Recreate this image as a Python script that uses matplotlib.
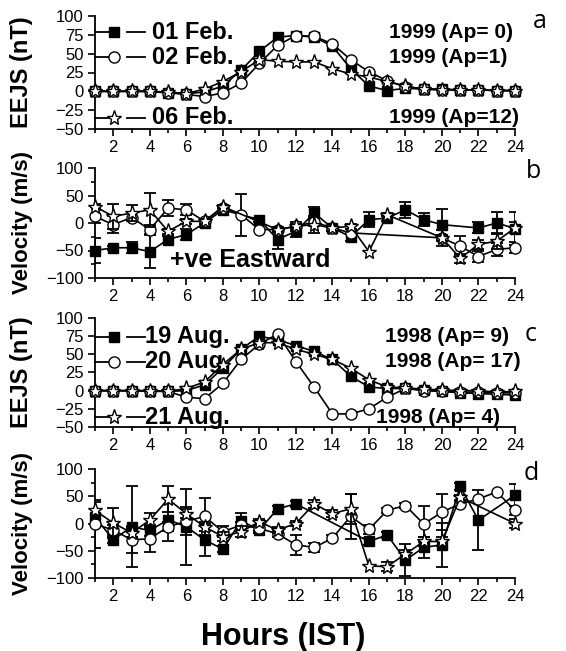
import numpy as np
import matplotlib
matplotlib.use('Agg')
import matplotlib.pyplot as plt
from matplotlib.ticker import MultipleLocator

plt.rcParams['font.family'] = ['Liberation Sans', 'DejaVu Sans']

nan = np.nan
hours = np.arange(1, 25)

# (a) EEJS, Feb 1999
feb01_ejs = [0, 0, 0, 0, -2, -3, -1, 7, 28, 53, 72, 74, 72, 60, 30, 7, 1, 4, 3, 3, 2, 2, 1, 1]
feb02_ejs = [0, 0, 0, 0, -2, -4, -7, -2, 11, 37, 61, 74, 73, 63, 42, 26, 14, 6, 3, 2, 2, 2, 1, 1]
feb06_ejs = [0, 0, 0, 0, -1, -3, 3, 13, 26, 42, 40, 39, 39, 30, 23, 19, 13, 7, 3, 2, 2, 2, 1, 1]

# (b) drift velocity, Feb 1999 (+ error bars)
feb01_vel = [-50, -45, -45, -52, -30, -21, 0, 24, nan, 6, -30, -15, 18, -9, -25, 6, 9, 24, 6, -3, nan, -9, 0, -10]
feb02_vel = [12, -3, 10, -12, 27, 24, 3, 28, 15, -12, -12, -6, 2, -9, -18, nan, nan, nan, nan, -27, -42, -61, -48, -45]
feb06_vel = [30, 12, 18, 24, -15, 3, 3, 30, nan, nan, -12, -6, -3, -9, -6, -52, 15, nan, nan, -27, -64, -39, -33, -9]
feb01_err = [22, 4, 10, 30, 6, 10, 8, nan, nan, 4, 18, 10, 12, 6, 8, 14, 5, 14, 12, 28, nan, 10, 20, 30]
feb02_err = [12, 15, nan, 8, 15, 10, nan, nan, 38, nan, nan, 8, 8, 5, nan, nan, nan, nan, nan, 15, 18, 10, 12, 10]
feb06_err = [5, 22, 14, 31, 5, 5, 5, 3, nan, nan, 5, 5, 15, 5, 5, nan, 3, nan, nan, 5, 8, 8, 15, 10]

# (c) EEJS, Aug 1998
aug19_ejs = [0, 0, 0, -1, -1, 0, 8, 31, 57, 75, 70, 62, 54, 43, 20, 5, 3, 3, 1, -1, -3, -4, -5, -6]
aug20_ejs = [0, 0, 0, 0, -1, -9, -11, 10, 43, 64, 78, 40, 5, -32, -32, -25, -9, 3, 0, -1, -2, -2, -3, -3]
aug21_ejs = [0, 0, 0, 0, -1, 3, 12, 36, 57, 66, 66, 57, 50, 43, 31, 15, 5, 4, 2, 1, 0, 0, -2, -1]

# (d) drift velocity, Aug 1998 (+ error bars)
aug19_vel = [12, -30, -6, -13, 7, -6, -30, -47, 5, -12, 27, 36, nan, nan, nan, -33, -21, -67, -44, -39, 68, 6, nan, 52]
aug20_vel = [-1, -12, -30, -28, -6, 4, 13, -15, -3, -9, -19, -39, -44, -27, 13, -11, 24, 33, -1, 21, 36, 45, 58, 24]
aug21_vel = [24, 1, -17, 6, 45, 18, -6, -24, -15, 3, -12, 0, 36, 18, 27, -78, -79, -56, -33, -33, 48, nan, nan, 0]
aug19_err = [nan, 6, 74, 10, 40, 70, 30, 5, 15, 5, 5, 5, nan, nan, nan, 6, 6, 30, 20, 40, 6, 55, nan, 20]
aug20_err = [44, 10, 25, 24, 8, 26, 34, 10, 5, 5, 5, 18, 8, 6, 42, 8, 5, 5, 33, 33, 5, nan, nan, 8]
aug21_err = [15, 27, 8, 14, 24, 8, 8, 8, 10, 5, 5, 5, 8, 6, 27, nan, 8, 8, 8, 8, 5, nan, nan, 8]

W, H = 566, 651
fig = plt.figure(figsize=(W / 100, H / 100), dpi=100)


def make_axes(top, bottom):
    ax = fig.add_axes([95 / W, 1 - bottom / H, 420 / W, (bottom - top) / H])
    ax.spines['top'].set_visible(False)
    ax.spines['right'].set_visible(False)
    for s in ('left', 'bottom'):
        ax.spines[s].set_linewidth(1.3)
    ax.set_xlim(1, 24)
    ax.xaxis.set_major_locator(MultipleLocator(2))
    ax.xaxis.set_minor_locator(MultipleLocator(1))
    ax.tick_params(which='both', direction='out', width=1.2, labelsize=12, pad=3)
    ax.tick_params(which='major', length=5)
    ax.tick_params(which='minor', length=3)
    return ax


def draw(ax, y, marker, face, ms, z, err=None):
    y = np.array(y, float)
    m = ~np.isnan(y)
    if err is not None:
        e = np.array(err, float)
        k = m & ~np.isnan(e)
        ax.errorbar(hours[k], y[k], yerr=e[k], fmt='none', ecolor='k',
                    elinewidth=1.3, capsize=4, capthick=1.3, zorder=z)
    ax.plot(hours[m], y[m], '-', color='k', lw=1.2, marker=marker, mfc=face,
            mec='k', ms=ms, mew=1, zorder=z + 1, clip_on=False)


def legend_entry(ax, yfrac, marker, face, ms, label, tx):
    # short line up to the marker, then a separate dash before the text
    ax.plot([0, 0.045], [yfrac, yfrac], color='k', lw=1.3,
            transform=ax.transAxes, clip_on=False, zorder=5)
    ax.plot([0.075, 0.12], [yfrac, yfrac], color='k', lw=1.3,
            transform=ax.transAxes, clip_on=False, zorder=5)
    ax.plot([0.045], [yfrac], marker=marker, mfc=face, mec='k', ms=ms, mew=1,
            transform=ax.transAxes, clip_on=False, zorder=6)
    ax.text(tx, yfrac, label, transform=ax.transAxes, fontsize=17,
            fontweight='bold', va='center', ha='left')


sq = ('s', 'k', 6.5)
ci = ('o', 'white', 8)
st = ('*', 'white', 11)

# ---- panel a
ax_a = make_axes(16, 129)
ax_a.set_ylim(-50, 100)
ax_a.yaxis.set_major_locator(MultipleLocator(25))
draw(ax_a, feb01_ejs, *sq, 3)
draw(ax_a, feb02_ejs, *ci, 5)
draw(ax_a, feb06_ejs, *st, 7)
legend_entry(ax_a, 0.855, *sq, '01 Feb.', 0.135)
legend_entry(ax_a, 0.635, *ci, '02 Feb.', 0.135)
legend_entry(ax_a, 0.10, *st, '06 Feb.', 0.135)
for yf, t in [(0.855, '1999 (Ap= 0)'), (0.635, '1999 (Ap=1)'), (0.10, '1999 (Ap=12)')]:
    ax_a.text(0.70, yf, t, transform=ax_a.transAxes, fontsize=15,
              fontweight='bold', va='center', ha='left')
ax_a.set_ylabel('EEJS (nT)', fontsize=17, fontweight='bold')

# ---- panel b
ax_b = make_axes(168, 278)
ax_b.set_ylim(-100, 100)
ax_b.yaxis.set_major_locator(MultipleLocator(50))
ax_b.yaxis.set_minor_locator(MultipleLocator(25))
draw(ax_b, feb01_vel, *sq, 3, feb01_err)
draw(ax_b, feb02_vel, *ci, 5, feb02_err)
draw(ax_b, feb06_vel, *st, 7, feb06_err)
ax_b.text(9.5, -68, '+ve Eastward', fontsize=18, fontweight='bold',
          ha='center', va='center', zorder=10)
ax_b.set_ylabel('Velocity (m/s)', fontsize=16, fontweight='bold')

# ---- panel c
ax_c = make_axes(318, 427)
ax_c.set_ylim(-50, 100)
ax_c.yaxis.set_major_locator(MultipleLocator(25))
draw(ax_c, aug19_ejs, *sq, 3)
draw(ax_c, aug20_ejs, *ci, 5)
draw(ax_c, aug21_ejs, *st, 7)
legend_entry(ax_c, 0.83, *sq, '19 Aug.', 0.12)
legend_entry(ax_c, 0.60, *ci, '20 Aug.', 0.12)
legend_entry(ax_c, 0.09, *st, '21 Aug.', 0.12)
for xf, yf, t in [(0.69, 0.83, '1998 (Ap= 9)'), (0.69, 0.60, '1998 (Ap= 17)'),
                  (0.67, 0.09, '1998 (Ap= 4)')]:
    ax_c.text(xf, yf, t, transform=ax_c.transAxes, fontsize=15,
              fontweight='bold', va='center', ha='left')
ax_c.set_ylabel('EEJS (nT)', fontsize=17, fontweight='bold')

# ---- panel d
ax_d = make_axes(469, 578)
ax_d.set_ylim(-100, 100)
ax_d.yaxis.set_major_locator(MultipleLocator(50))
ax_d.yaxis.set_minor_locator(MultipleLocator(25))
draw(ax_d, aug19_vel, *sq, 3, aug19_err)
draw(ax_d, aug20_vel, *ci, 5, aug20_err)
draw(ax_d, aug21_vel, *st, 7, aug21_err)
ax_d.set_ylabel('Velocity (m/s)', fontsize=16, fontweight='bold')

for ax in (ax_a, ax_b, ax_c, ax_d):
    ax.yaxis.set_label_coords(-62 / 420, 0.5)

for ax, letter, (px, py) in zip((ax_a, ax_b, ax_c, ax_d), 'abcd',
                                [(540, 22), (534, 172), (531, 335), (531, 474)]):
    fig.text(px / W, 1 - py / H, letter, fontsize=18, family='Open Sans',
             ha='center', va='center')

fig.text(283 / W, 1 - 637 / H, 'Hours (IST)', fontsize=22, fontweight='bold',
         ha='center', va='center')

fig.savefig('out.png', dpi=100)
